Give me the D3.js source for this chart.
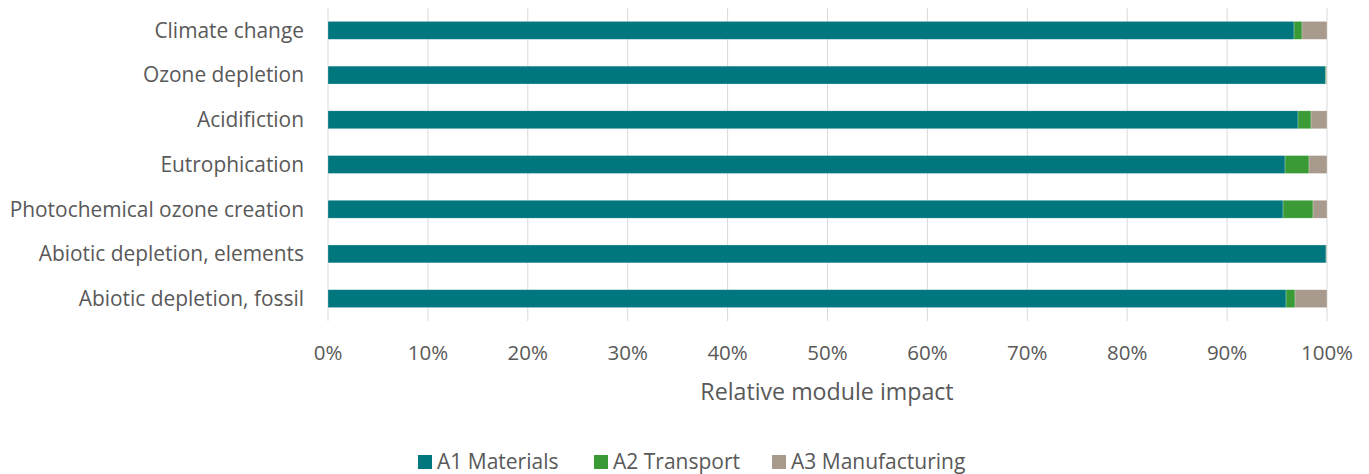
<!DOCTYPE html>
<html><head><meta charset="utf-8">
<script src="https://cdn.jsdelivr.net/npm/d3@7"></script>
<style>body{margin:0;background:#fff;} text{font-family:"Open Sans",sans-serif;fill:#595959;}</style>
</head><body>
<svg id="c" width="1369" height="474"></svg>
<script>
const categories = ["Climate change","Ozone depletion","Acidifiction","Eutrophication","Photochemical ozone creation","Abiotic depletion, elements","Abiotic depletion, fossil"];
const seriesNames = ["A1 Materials","A2 Transport","A3 Manufacturing"];
const a1 = [96.7, 99.85, 97.1, 95.8, 95.6, 99.9, 95.9];
const a2 = [0.8, 0.1, 1.3, 2.4, 3.0, 0.05, 0.9];
const a3 = [2.5, 0.05, 1.6, 1.8, 1.4, 0.05, 3.2];
const tickValues = [0,10,20,30,40,50,60,70,80,90,100];
const colors = ["#00767F","#3A9A35","#A89A8C"];

const svg = d3.select("#c");
const m = {left:328, right:1327, top:8, bottom:321};
const x = d3.scaleLinear().domain([0,100]).range([m.left, m.right]);
const y = d3.scaleBand().domain(categories).range([m.top, m.bottom]).paddingInner(0.6).paddingOuter(0.3);

// grid
svg.append("g").selectAll("line").data(tickValues).join("line")
  .attr("x1", d=>x(d)).attr("x2", d=>x(d)).attr("y1", m.top).attr("y2", m.bottom)
  .attr("stroke", "#D9D9D9").attr("stroke-width", 1);

const data = categories.map((c,i)=>({cat:c, A1:a1[i], A2:a2[i], A3:a3[i]}));
const stack = d3.stack().keys(["A1","A2","A3"])(data);
svg.append("g").selectAll("g").data(stack).join("g").attr("fill",(d,i)=>colors[i])
  .selectAll("rect").data(d=>d).join("rect")
  .attr("x", d=>x(d[0])).attr("width", d=>x(d[1])-x(d[0]))
  .attr("y", d=>y(d.data.cat)).attr("height", y.bandwidth())
  .attr("stroke","#fff").attr("stroke-width",0.5).attr("stroke-opacity",0.5);

// y labels
svg.append("g").selectAll("text").data(categories).join("text")
  .attr("x", 304).attr("y", d=>y(d)+y.bandwidth()/2).attr("dy","0.35em")
  .attr("text-anchor","end").style("font-size","20.9px").text(d=>d);

// x axis labels
svg.append("g").selectAll("text").data(tickValues).join("text")
  .attr("x", d=>x(d)).attr("y", 353).attr("dy","0.35em").attr("text-anchor","middle")
  .style("font-size","20.5px").text(d=>d+"%");

svg.append("text").attr("x", 827).attr("y", 392).attr("dy","0.35em")
  .attr("text-anchor","middle").style("font-size","23.2px").text("Relative module impact");

// legend
const legX = [418, 594, 772];
const lg = svg.append("g").selectAll("g").data(seriesNames).join("g")
  .attr("transform",(d,i)=>`translate(${legX[i]},462)`);
lg.append("rect").attr("x",0).attr("y",-7).attr("width",14).attr("height",14).attr("fill",(d,i)=>colors[i]);
lg.append("text").attr("x",19).attr("y",0).attr("dy","0.35em").style("font-size","21px").text(d=>d);
</script>
</body></html>
